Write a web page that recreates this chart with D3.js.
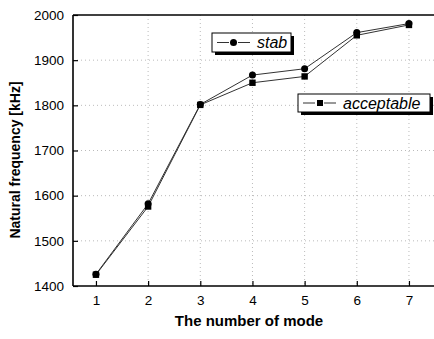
<!DOCTYPE html>
<html><head><meta charset="utf-8">
<script src="https://cdn.jsdelivr.net/npm/d3@7"></script>
<style>body{margin:0;background:#fff}svg{display:block}</style>
</head><body>
<svg id="c" width="434" height="339"></svg>
<script>
const modes = [1, 2, 3, 4, 5, 6, 7];
const stab = [1426, 1582, 1802, 1867, 1881, 1961, 1981];
const acceptable = [1425, 1576, 1801, 1850, 1864, 1955, 1978];
const yTicks = [1400, 1500, 1600, 1700, 1800, 1900, 2000];
const seriesNames = ["stab", "acceptable"];

const svg = d3.select("#c");
const L = 73, R = 434, T = 15, B = 286;
const x = d3.scaleLinear().domain([0.56, 7.48]).range([L, R]);
const y = d3.scaleLinear().domain([1400, 2000]).range([B, T]);
const font = "'Liberation Sans', Arial, Helvetica, sans-serif";

// grid
const g = svg.append("g");
g.selectAll(".gx").data(modes.slice(1)).enter().append("line")
  .attr("x1", d => x(d)).attr("x2", d => x(d)).attr("y1", T).attr("y2", B)
  .attr("stroke", "#aaa").attr("stroke-width", 0.8).attr("stroke-dasharray", "1,3");
g.selectAll(".gy").data(yTicks.slice(1, -1)).enter().append("line")
  .attr("x1", L).attr("x2", R).attr("y1", d => y(d)).attr("y2", d => y(d))
  .attr("stroke", "#aaa").attr("stroke-width", 0.8).attr("stroke-dasharray", "1,3");

// axes
const ax = svg.append("g").attr("transform", `translate(0,${B})`)
  .call(d3.axisBottom(x).tickValues(modes).tickSize(-5).tickPadding(9).tickFormat(d3.format("d")));
const ay = svg.append("g").attr("transform", `translate(${L},0)`)
  .call(d3.axisLeft(y).tickValues(yTicks).tickSize(-5).tickPadding(9).tickFormat(d3.format("d")));
[ax, ay].forEach(a => {
  a.select(".domain").remove();
  a.selectAll("line").attr("stroke", "#000").attr("stroke-width", 1.2);
  a.selectAll("text").attr("font-family", font).attr("font-size", 13.5).attr("fill", "#000");
});
// frame lines
svg.append("line").attr("x1", L).attr("x2", L).attr("y1", T).attr("y2", B).attr("stroke", "#000").attr("stroke-width", 1.6);
svg.append("line").attr("x1", L).attr("x2", R).attr("y1", B).attr("y2", B).attr("stroke", "#000").attr("stroke-width", 1.6);
svg.append("line").attr("x1", L).attr("x2", R).attr("y1", T).attr("y2", T).attr("stroke", "#000").attr("stroke-width", 1.6);

// lines
const line = d3.line().x((d, i) => x(modes[i])).y(d => y(d));
svg.append("path").datum(stab).attr("d", line).attr("fill", "none").attr("stroke", "#333").attr("stroke-width", 1);
svg.append("path").datum(acceptable).attr("d", line).attr("fill", "none").attr("stroke", "#333").attr("stroke-width", 1);
svg.selectAll(".c").data(stab).enter().append("circle")
  .attr("cx", (d, i) => x(modes[i])).attr("cy", d => y(d)).attr("r", 3.5).attr("fill", "#000");
svg.selectAll(".s").data(acceptable).enter().append("rect")
  .attr("x", (d, i) => x(modes[i]) - 3.2).attr("y", d => y(d) - 3.2).attr("width", 6.4).attr("height", 6.4).attr("fill", "#000");

// legends
function legend(bx, by, bw, bh, name, marker) {
  const lg = svg.append("g");
  lg.append("rect").attr("x", bx + 3).attr("y", by + 3).attr("width", bw).attr("height", bh).attr("fill", "#000");
  lg.append("rect").attr("x", bx).attr("y", by).attr("width", bw).attr("height", bh).attr("fill", "#fff").attr("stroke", "#000").attr("stroke-width", 1);
  const cy = by + bh / 2;
  lg.append("line").attr("x1", bx + 5).attr("x2", bx + 17).attr("y1", cy).attr("y2", cy).attr("stroke", "#333").attr("stroke-width", 1);
  lg.append("line").attr("x1", bx + 26).attr("x2", bx + 38).attr("y1", cy).attr("y2", cy).attr("stroke", "#333").attr("stroke-width", 1);
  if (marker === "circle") lg.append("circle").attr("cx", bx + 21.5).attr("cy", cy).attr("r", 3.5).attr("fill", "#000");
  else lg.append("rect").attr("x", bx + 19).attr("y", cy - 3).attr("width", 6).attr("height", 6).attr("fill", "#000");
  lg.append("text").attr("x", bx + 45).attr("y", cy + 5.5).text(name)
    .attr("font-family", font).attr("font-style", "italic").attr("font-size", 16).attr("fill", "#000");
}
legend(212, 33, 79, 19, seriesNames[0], "circle");
legend(298, 94, 132, 18, seriesNames[1], "square");

// titles
svg.append("text").attr("x", 249).attr("y", 326).attr("text-anchor", "middle")
  .attr("font-family", font).attr("font-weight", "bold").attr("font-size", 15).text("The number of mode");
svg.append("text").attr("transform", "translate(20,160) rotate(-90)").attr("text-anchor", "middle")
  .attr("font-family", font).attr("font-weight", "bold").attr("font-size", 14).text("Natural frequency [kHz]");
</script>
</body></html>
